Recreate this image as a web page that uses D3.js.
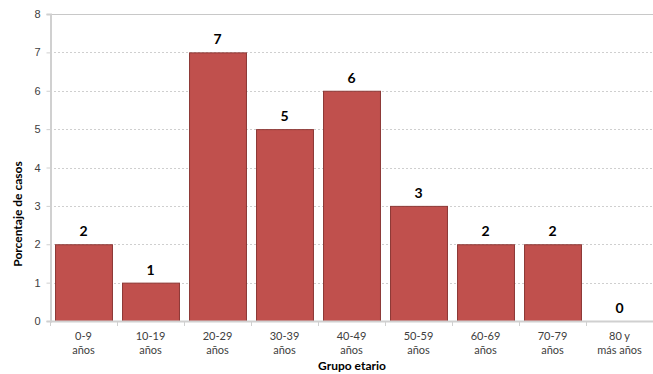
<!DOCTYPE html>
<html>
<head>
<meta charset="utf-8">
<script src="https://cdn.jsdelivr.net/npm/d3@7"></script>
<style>
  html, body { margin: 0; padding: 0; background: #fff; }
  svg { display: block; font-family: Lato, "Open Sans", sans-serif; }
</style>
</head>
<body>
<svg id="chart" width="653" height="374"></svg>
<script>
// Age groups (two-line labels) and percentage of cases
const categories = ["0-9|años", "10-19|años", "20-29|años", "30-39|años", "40-49|años", "50-59|años", "60-69|años", "70-79|años", "80 y|más años"];
const values = [2, 1, 7, 5, 6, 3, 2, 2, 0];
const yTicks = [0, 1, 2, 3, 4, 5, 6, 7, 8];
const xTitle = "Grupo etario";
const yTitle = "Porcentaje de casos";

const svg = d3.select("#chart");
const plotLeft = 50, plotRight = 653, plotTop = 14, plotBottom = 321;

const x = d3.scaleBand()
  .domain(categories)
  .range([plotLeft, plotRight])
  .paddingInner(0.15)
  .paddingOuter(0.075);

const y = d3.scaleLinear().domain([0, 8]).range([plotBottom, plotTop]);

// Horizontal gridlines (dotted), top one solid
svg.append("g").selectAll("line")
  .data(yTicks.filter(d => d > 0))
  .join("line")
  .attr("x1", plotLeft).attr("x2", plotRight)
  .attr("y1", d => Math.round(y(d)) + 0.5).attr("y2", d => Math.round(y(d)) + 0.5)
  .attr("stroke", d => d === 8 ? "#c8c8c8" : "#cfcfcf")
  .attr("stroke-width", 1)
  .attr("stroke-dasharray", d => d === 8 ? null : "2,2");

// Y axis
const yAxis = svg.append("g")
  .attr("transform", `translate(${plotLeft + 0.5},0)`)
  .call(d3.axisLeft(y).tickValues(yTicks).tickSize(4).tickPadding(6).tickFormat(d3.format("d")));
yAxis.select(".domain").attr("stroke", "#d0d0d0").attr("stroke-width", 2);
yAxis.selectAll(".tick line").attr("stroke", "#d0d0d0");
yAxis.selectAll(".tick text").attr("fill", "#404040").style("font-size", "11px");

// Bars
svg.append("g").selectAll("rect")
  .data(values.map((v, i) => ({ c: categories[i], v })))
  .join("rect")
  .attr("x", d => x(d.c) + 0.5)
  .attr("y", d => y(d.v) + 0.5)
  .attr("width", x.bandwidth())
  .attr("height", d => y(0) - y(d.v))
  .attr("fill", "#c0504d")
  .attr("stroke", d => d.v > 0 ? "#8c3836" : "none")
  .attr("stroke-width", 1);

// X axis
const step = x.step();
const xAxisG = svg.append("g");
xAxisG.append("line")
  .attr("x1", plotLeft).attr("x2", plotRight)
  .attr("y1", plotBottom + 0.5).attr("y2", plotBottom + 0.5)
  .attr("stroke", "#d0d0d0").attr("stroke-width", 2);
xAxisG.selectAll("line.tk")
  .data(d3.range(categories.length + 1))
  .join("line")
  .attr("class", "tk")
  .attr("x1", i => plotLeft + i * step + 0.5).attr("x2", i => plotLeft + i * step + 0.5)
  .attr("y1", plotBottom).attr("y2", plotBottom + 5)
  .attr("stroke", "#d0d0d0");

const xl = svg.append("g").selectAll("text")
  .data(categories)
  .join("text")
  .attr("x", d => x(d) + x.bandwidth() / 2)
  .attr("y", 340)
  .attr("text-anchor", "middle")
  .attr("fill", "#404040")
  .style("font-size", "11px");
xl.each(function(d) {
  const parts = d.split("|");
  const t = d3.select(this);
  parts.forEach((p, i) => {
    t.append("tspan").attr("x", x(d) + x.bandwidth() / 2).attr("dy", i === 0 ? 0 : 14).text(p);
  });
});

// Value labels
svg.append("g").selectAll("text")
  .data(values.map((v, i) => ({ c: categories[i], v })))
  .join("text")
  .attr("x", d => x(d.c) + x.bandwidth() / 2)
  .attr("y", d => y(d.v) - 8)
  .attr("text-anchor", "middle")
  .attr("fill", "#000")
  .style("font-size", "14px")
  .style("font-weight", "bold")
  .text(d => d.v);

// Axis titles
svg.append("text")
  .attr("x", 352)
  .attr("y", 370)
  .attr("text-anchor", "middle")
  .style("font-size", "12px").style("font-weight", "bold")
  .attr("fill", "#000")
  .text(xTitle);

svg.append("text")
  .attr("transform", "translate(22,214) rotate(-90)")
  .attr("text-anchor", "middle")
  .style("font-size", "12px").style("font-weight", "bold")
  .attr("fill", "#000")
  .text(yTitle);
</script>
</body>
</html>
